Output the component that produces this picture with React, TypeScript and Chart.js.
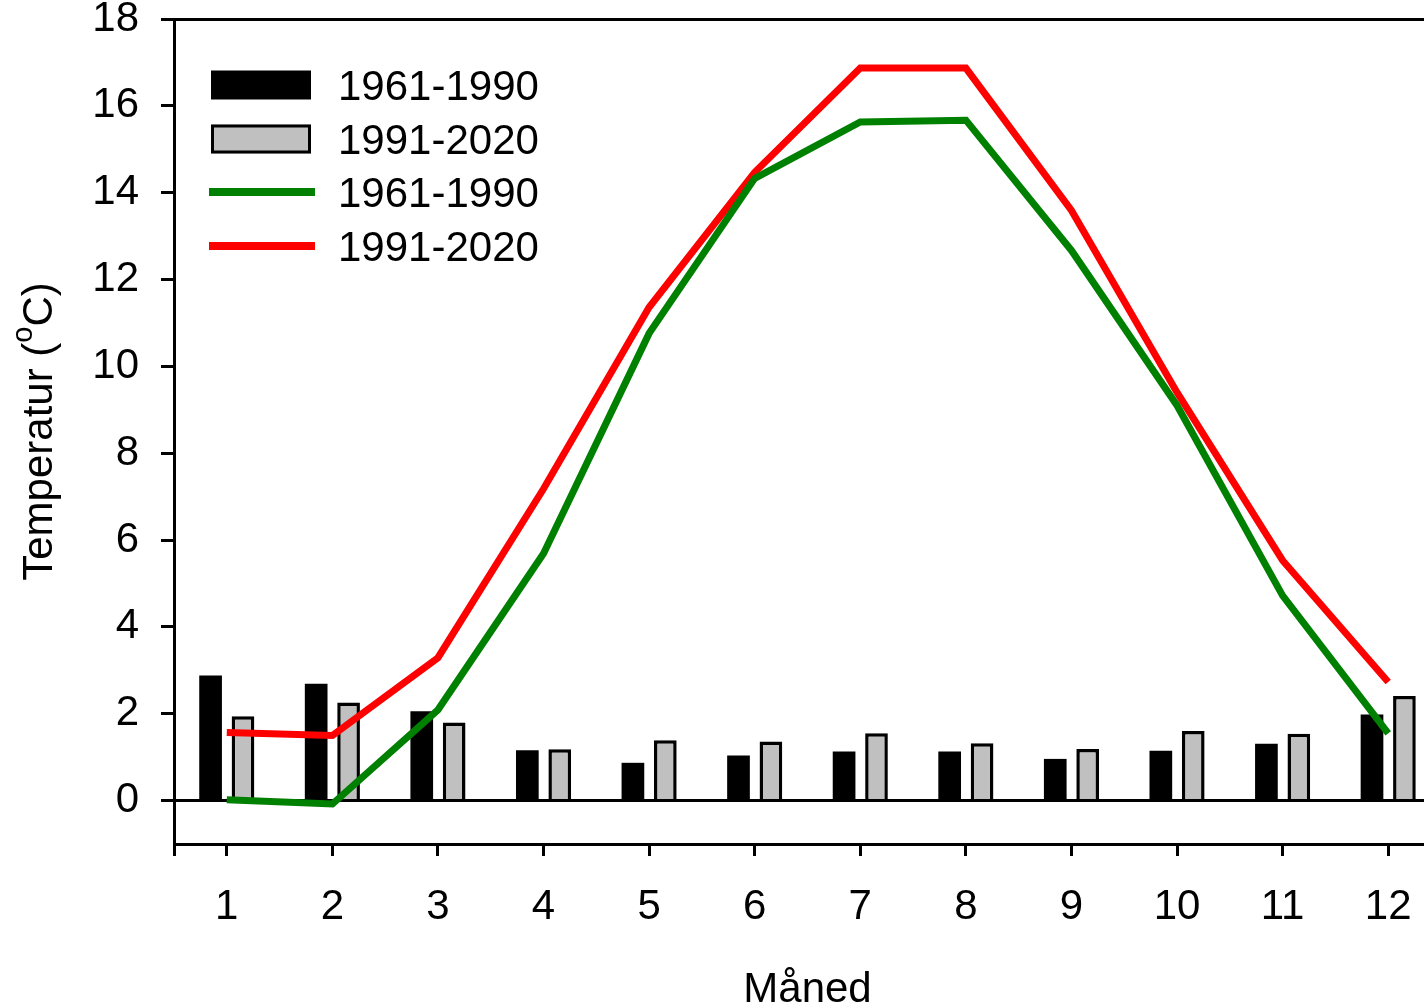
import React, { useEffect, useRef } from "react";
import { Chart, registerables } from "chart.js";

Chart.register(...registerables);

const months = [1, 2, 3, 4, 5, 6, 7, 8, 9, 10, 11, 12];
const yTickValues = [0, 2, 4, 6, 8, 10, 12, 14, 16, 18];
const bars6190 = [2.88, 2.69, 2.06, 1.16, 0.87, 1.04, 1.13, 1.13, 0.96, 1.15, 1.31, 1.98];
const bars9120 = [1.94, 2.26, 1.8, 1.18, 1.39, 1.36, 1.55, 1.32, 1.19, 1.6, 1.54, 2.41];
const line6190 = [0.02, -0.08, 2.09, 5.69, 10.76, 14.33, 15.63, 15.67, 12.67, 9.1, 4.72, 1.55];
const line9120 = [1.57, 1.5, 3.29, 7.18, 11.36, 14.47, 16.87, 16.87, 13.59, 9.4, 5.53, 2.73];
const seriesLabels = ["1961-1990", "1991-2020", "1961-1990", "1991-2020"];
const xTitle = "Måned";
const yTitleMain = "Temperatur (";
const yTitleSup = "o";
const yTitleEnd = "C)";

const FONT = '"Liberation Sans", Arial, sans-serif';
const CANVAS_W = 1482;
const CANVAS_H = 1006;

const toPoints = (vals: number[]) => months.map((m, i) => ({ x: m, y: vals[i] }));

const overlayPlugin = {
  id: "overlay",
  afterDraw(chart: any) {
    const ctx = chart.ctx;
    const ca = chart.chartArea;
    ctx.save();
    ctx.fillStyle = "#000";
    // Legend
    const ds = chart.data.datasets;
    const rows = [100, 154, 207, 261];
    const items = [2, 3, 0, 1]; // bars first, then lines (dataset indices)
    items.forEach((di: number, r: number) => {
      const d = ds[di];
      const base = rows[r];
      const cy = base - 15;
      if (d.type === "bar") {
        ctx.fillStyle = d.backgroundColor;
        ctx.fillRect(211, cy - 14.5, 100, 29);
        if (d.borderWidth) {
          ctx.strokeStyle = d.borderColor;
          ctx.lineWidth = 3;
          ctx.strokeRect(212.5, cy - 13, 97, 26);
        }
      } else {
        ctx.strokeStyle = d.borderColor;
        ctx.lineWidth = 8;
        ctx.lineCap = "butt";
        ctx.beginPath();
        ctx.moveTo(209, cy);
        ctx.lineTo(315, cy);
        ctx.stroke();
      }
      ctx.fillStyle = "#000";
      ctx.font = `42px ${FONT}`;
      ctx.textBaseline = "alphabetic";
      ctx.textAlign = "left";
      ctx.fillText(d.label, 338, base);
    });

    // X title
    ctx.font = `42px ${FONT}`;
    ctx.textAlign = "center";
    ctx.textBaseline = "alphabetic";
    ctx.fillText(xTitle, (ca.left + ca.right) / 2, 1002);

    // Y title (rotated, with superscript)
    const mainFont = `42px ${FONT}`;
    const supFont = `29px ${FONT}`;
    ctx.font = mainFont;
    const w1 = ctx.measureText(yTitleMain).width;
    const w3 = ctx.measureText(yTitleEnd).width;
    ctx.font = supFont;
    const w2 = ctx.measureText(yTitleSup).width;
    const total = w1 + w2 + w3;
    ctx.translate(52, (ca.top + ca.bottom) / 2);
    ctx.rotate(-Math.PI / 2);
    ctx.textAlign = "left";
    let x = -total / 2;
    ctx.font = mainFont;
    ctx.fillText(yTitleMain, x, 0);
    x += w1;
    ctx.font = supFont;
    ctx.fillText(yTitleSup, x, -20);
    x += w2;
    ctx.font = mainFont;
    ctx.fillText(yTitleEnd, x, 0);
    ctx.restore();
  },
};

export default function App() {
  const ref = useRef<HTMLCanvasElement | null>(null);

  useEffect(() => {
    if (!ref.current) return;
    // Tick spacing on the x axis is half a month (ticks at 0.5 and 1), so the
    // bar ruler uses that half-month as its unit.
    const catPct = 1.228;
    const barPct = 0.7;
    const chart = new Chart(ref.current, {
      type: "bar",
      data: {
        datasets: [
          {
            type: "line",
            label: seriesLabels[2],
            data: toPoints(line6190),
            borderColor: "#008000",
            backgroundColor: "#008000",
            borderWidth: 7,
            pointRadius: 0,
            tension: 0,
            xAxisID: "x",
            yAxisID: "y",
            order: 0,
            clip: false,
          } as any,
          {
            type: "line",
            label: seriesLabels[3],
            data: toPoints(line9120),
            borderColor: "#ff0000",
            backgroundColor: "#ff0000",
            borderWidth: 7,
            pointRadius: 0,
            tension: 0,
            xAxisID: "x",
            yAxisID: "y",
            order: 0,
            clip: false,
          } as any,
          {
            type: "bar",
            label: seriesLabels[0],
            data: toPoints(bars6190),
            backgroundColor: "#000000",
            borderColor: "#000000",
            borderWidth: 0,
            xAxisID: "x",
            yAxisID: "y",
            order: 1,
            categoryPercentage: catPct,
            barPercentage: barPct,
          } as any,
          {
            type: "bar",
            label: seriesLabels[1],
            data: toPoints(bars9120),
            backgroundColor: "#c0c0c0",
            borderColor: "#000000",
            borderWidth: 3.5,
            borderSkipped: "start",
            xAxisID: "x",
            yAxisID: "y",
            order: 1,
            categoryPercentage: catPct,
            barPercentage: barPct,
          } as any,
        ],
      },
      options: {
        animation: false,
        responsive: false,
        maintainAspectRatio: false,
        layout: { padding: { left: 0, top: 19, right: CANVAS_W - 1441, bottom: 0 } },
        plugins: {
          legend: { display: false },
          tooltip: { enabled: false },
          title: { display: false },
        },
        scales: {
          x: {
            type: "linear",
            position: "bottom",
            offset: false,
            min: 0.5,
            max: 12.5,
            afterBuildTicks: (axis: any) => {
              axis.ticks = [0.5, ...months].map((v) => ({ value: v }));
            },
            afterFit: (scale: any) => {
              scale.height = CANVAS_H - 844;
              scale.paddingLeft = 0;
              scale.paddingRight = 0;
            },
            ticks: {
              autoSkip: false,
              maxRotation: 0,
              minRotation: 0,
              padding: 26,
              color: "#000",
              font: { family: FONT, size: 42 },
              callback: (v: any) => (v === 0.5 ? "" : String(v)),
            },
            grid: {
              offset: false,
              drawOnChartArea: false,
              drawTicks: true,
              tickLength: 12,
              tickColor: "#000",
              tickWidth: 3,
              lineWidth: 3,
              color: "#000",
            },
            border: { display: true, color: "#000", width: 3 },
          },
          y: {
            type: "linear",
            position: "left",
            min: -1,
            max: 18,
            afterBuildTicks: (axis: any) => {
              axis.ticks = yTickValues.map((v) => ({ value: v }));
            },
            afterFit: (scale: any) => {
              scale.width = 174;
              scale.paddingTop = 0;
              scale.paddingBottom = 0;
            },
            ticks: {
              padding: 22,
              color: "#000",
              font: { family: FONT, size: 42 },
              callback: (v: any) => String(v),
            },
            grid: {
              drawOnChartArea: true,
              drawTicks: true,
              tickLength: 13,
              tickColor: "#000",
              tickWidth: 3,
              lineWidth: 3,
              color: (c: any) =>
                c.tick && (c.tick.value === 0 || c.tick.value === 18) ? "#000" : "rgba(0,0,0,0)",
            },
            border: { display: true, color: "#000", width: 3 },
          },
        },
      } as any,
      plugins: [overlayPlugin],
    });
    return () => chart.destroy();
  }, []);

  return (
    <div
      style={{
        position: "fixed",
        left: 0,
        top: 0,
        width: 1424,
        height: 1006,
        overflow: "hidden",
        background: "#fff",
      }}
    >
      <canvas ref={ref} width={CANVAS_W} height={CANVAS_H} style={{ display: "block" }} />
    </div>
  );
}
